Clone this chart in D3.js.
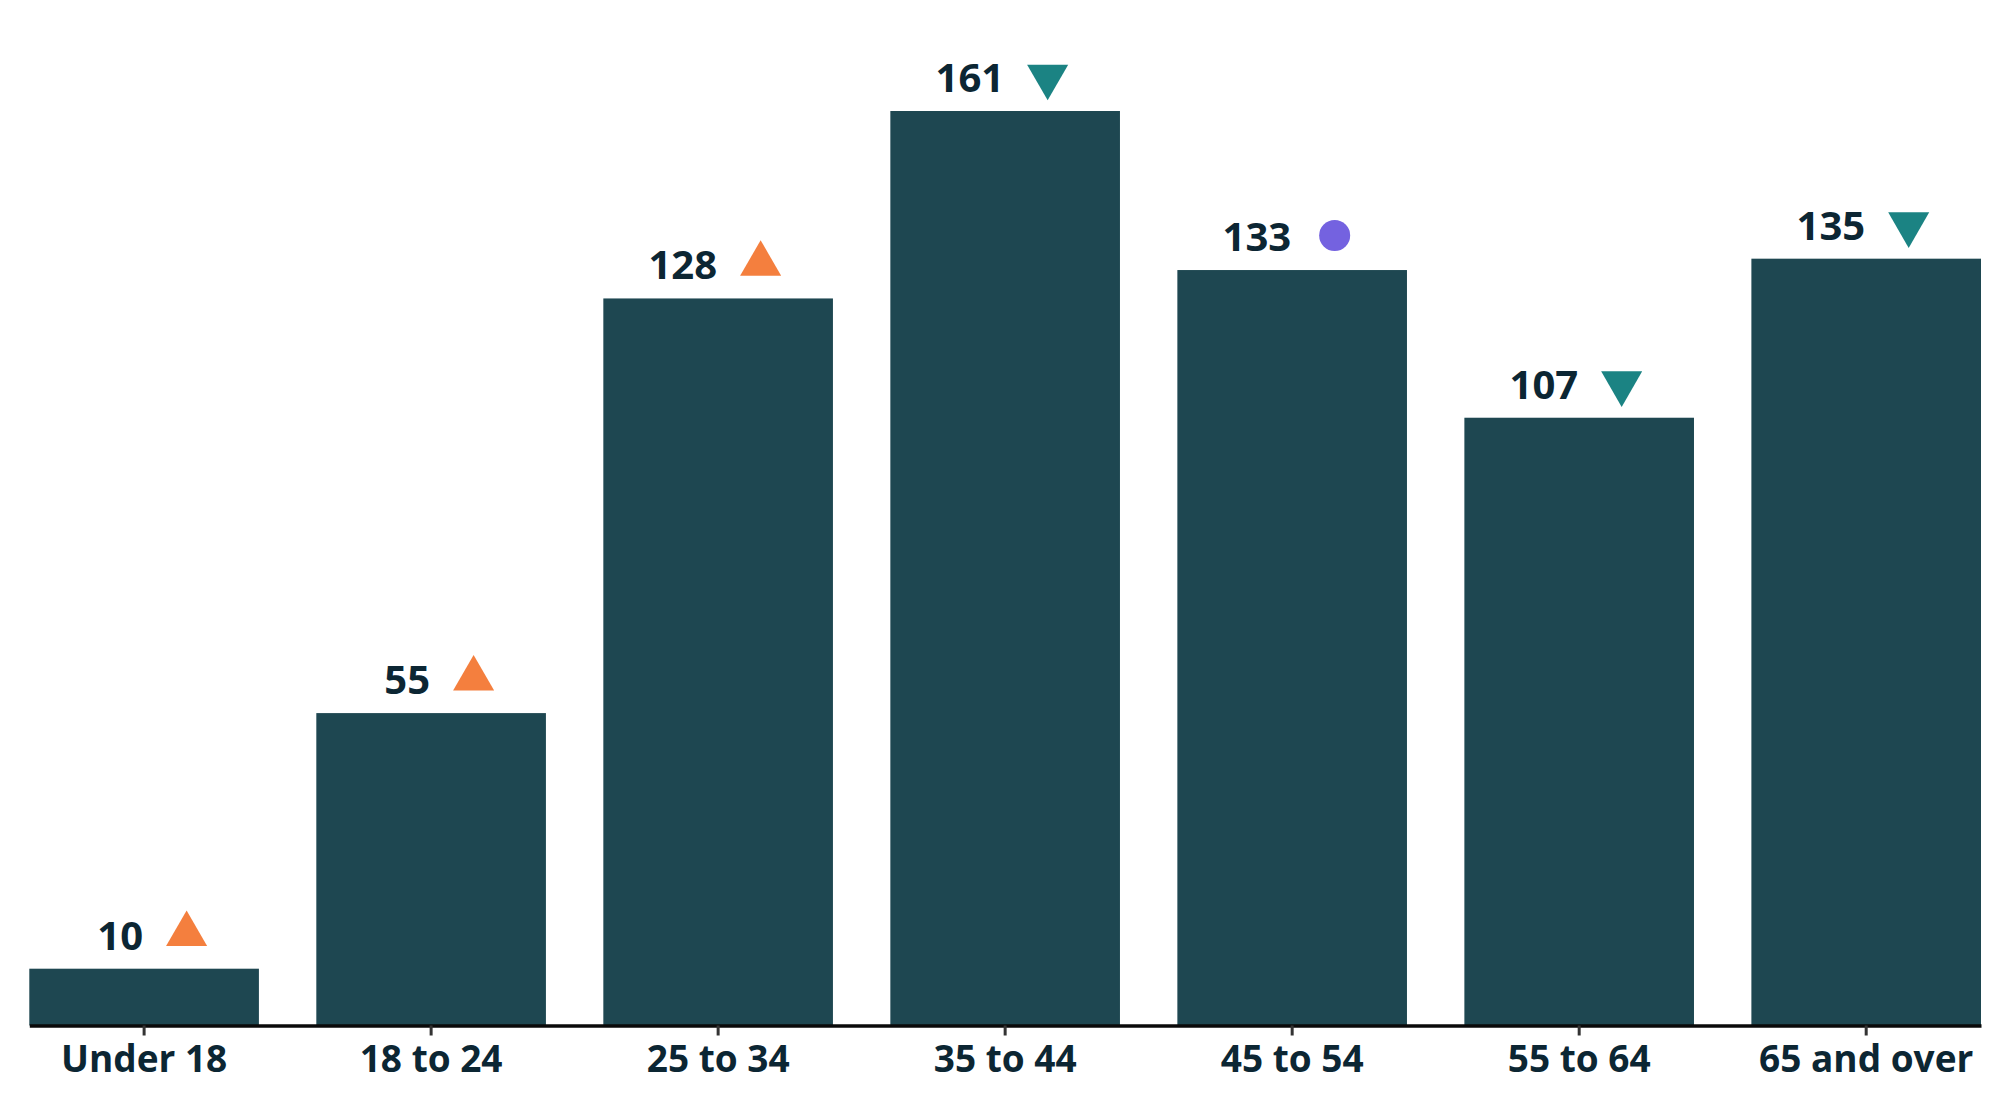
<!DOCTYPE html>
<html>
<head>
<meta charset="utf-8">
<script src="https://cdn.jsdelivr.net/npm/d3@7"></script>
<style>
  html, body { margin: 0; padding: 0; background: #ffffff; }
  svg { display: block; }
</style>
</head>
<body>
<svg id="chart" width="2000" height="1099"></svg>
<script>
const categories = ["Under 18", "18 to 24", "25 to 34", "35 to 44", "45 to 54", "55 to 64", "65 and over"];
const values = [10, 55, 128, 161, 133, 107, 135];
const trends = ["up", "up", "up", "down", "flat", "down", "down"];

const trendColor = { up: "#f47f3e", down: "#1b8383", flat: "#7462e0" };
const barColor = "#1e4751";
const textColor = "#0c2633";

const svg = d3.select("#chart");
const baseY = 1025.5;

const x = d3.scaleBand()
  .domain(categories)
  .range([29.3, 1981])
  .paddingInner(0.2)
  .paddingOuter(0);

const y = d3.scaleLinear()
  .domain([0, 161])
  .range([baseY, 111]);

const data = categories.map((c, i) => ({ cat: c, value: values[i], trend: trends[i] }));

svg.append("g")
  .selectAll("rect")
  .data(data)
  .join("rect")
  .attr("x", d => x(d.cat))
  .attr("y", d => y(d.value))
  .attr("width", x.bandwidth())
  .attr("height", d => y(0) - y(d.value))
  .attr("fill", barColor);

// value labels
svg.append("g")
  .selectAll("text")
  .data(data)
  .join("text")
  .attr("x", d => x(d.cat) + x.bandwidth() / 2 - 1)
  .attr("y", d => y(d.value) - 19)
  .attr("text-anchor", "end")
  .attr("font-family", "'Open Sans', sans-serif")
  .attr("font-weight", 700)
  .attr("font-size", 40)
  .attr("fill", textColor)
  .text(d => d.value);

// trend markers
const sym = d3.symbol();
svg.append("g")
  .selectAll("path")
  .data(data)
  .join("path")
  .attr("transform", d => {
    const cx = x(d.cat) + x.bandwidth() / 2 + 42.5;
    const cy = y(d.value) - 34.5;
    return `translate(${cx},${cy})` + (d.trend === "down" ? " rotate(180)" : "");
  })
  .attr("d", d => d.trend === "flat"
    ? sym.type(d3.symbolCircle).size(755)()
    : sym.type(d3.symbolTriangle).size(730)())
  .attr("fill", d => trendColor[d.trend]);

// x axis
const xAxis = svg.append("g")
  .attr("transform", `translate(0,${baseY})`)
  .call(d3.axisBottom(x).tickSize(10).tickSizeOuter(0).tickPadding(10));

xAxis.select(".domain")
  .attr("stroke", "#0a0a0a")
  .attr("stroke-width", 3.5);

xAxis.selectAll(".tick line")
  .attr("stroke", "#333333")
  .attr("stroke-width", 3);

xAxis.selectAll(".tick text")
  .attr("font-family", "'Open Sans', sans-serif")
  .attr("font-weight", 700)
  .attr("font-size", 37)
  .attr("fill", textColor);
</script>
</body>
</html>
